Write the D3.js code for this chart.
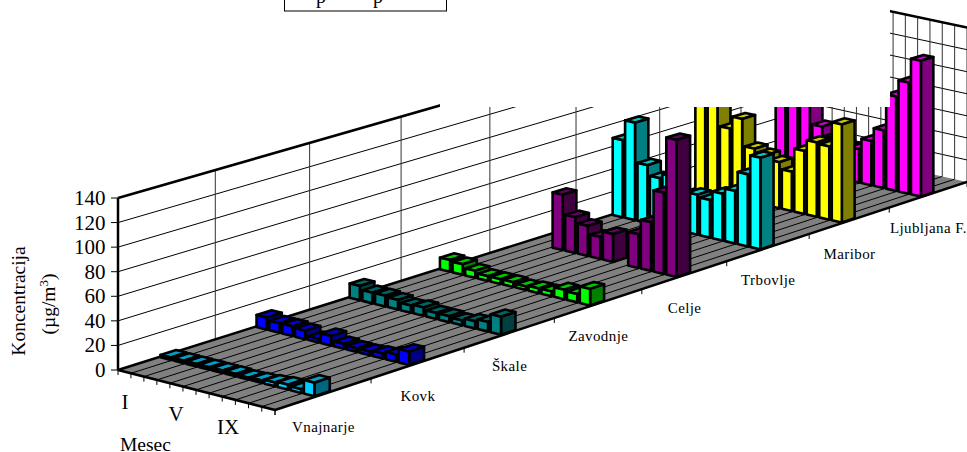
<!DOCTYPE html>
<html><head><meta charset="utf-8">
<style>html,body{margin:0;padding:0;background:#fff}svg{display:block;font-family:"Liberation Serif",serif}</style>
<script src="https://cdn.jsdelivr.net/npm/d3@7"></script>
</head><body><svg id="c" width="967" height="452"></svg>
<script>
const stations = ["Vnajnarje","Kovk","Škale","Zavodnje","Celje","Trbovlje","Maribor","Ljubljana F."];
const months = ["I","II","III","IV","V","VI","VII","VIII","IX","X","XI","XII"];
const monthLabels = ["I","V","IX"];
const yTicks = [0,20,40,60,80,100,120,140];
const vnajnarje = [2,2,2,2,2,2,1.5,2,3,4,3,11];
const kovk = [10,8,8,7,3,8,4,3,3,4,6,11];
const skale = [12,9,9,8,6,7,5,5,4,6,8,15];
const zavodnje = [10,9,6,4,4,4,3,4,4,8,7,14];
const celje = [null,null,48,31,26,19,24,null,29,42,70,118];
const trbovlje = [68,86,51,42,46,30,35,33,41,46,63,80];
const maribor = [100,95,61,72,48,45,41,35,56,66,65,87];
const ljubljana = [100,95,85,43,35,30,30,40,52,85,100,122];
const seriesValues = [vnajnarje,kovk,skale,zavodnje,celje,trbovlje,maribor,ljubljana];
const lightColors = ["#00ccff","#0000ff","#008080","#00ff00","#800080","#00ffff","#ffff00","#ff00ff"];

const svg = d3.select("#c");
const sPos = d3.scaleBand().domain(stations).range([0,1]).paddingInner(0.84).paddingOuter(0.42);
const sEdge = d3.scaleLinear().domain([0,stations.length]).range([0,1]);
const mPos = d3.scaleBand().domain(months).range([0,1]).paddingInner(0.2).paddingOuter(0.1);
const mEdge = d3.scaleLinear().domain([0,months.length]).range([0,1]);
const zS = d3.scaleLinear().domain([0,140]).range([0,172]);

// perspective fit of the floor quad
const A=[118,370],B=[275,410],C=[967,182],D=[820,149];
const dx1=D[0]-C[0],dx2=B[0]-C[0],sx=A[0]-D[0]+C[0]-B[0];
const dy1=D[1]-C[1],dy2=B[1]-C[1],sy=A[1]-D[1]+C[1]-B[1];
const det=dx1*dy2-dx2*dy1;
const g=(sx*dy2-dx2*sy)/det,h=(dx1*sy-sx*dy1)/det;
const a=D[0]-A[0]+g*D[0],b=B[0]-A[0]+h*B[0],c0=A[0];
const d=D[1]-A[1]+g*D[1],e=B[1]-A[1]+h*B[1],f=A[1];
function P(s,m,v){const w=g*s+h*m+1;return [(a*s+b*m+c0)/w,(d*s+e*m+f-zS(v||0))/w];}
const line=d3.line();
const seg=(p,q,sw,col)=>svg.append("path").attr("d",line([p,q])).attr("stroke",col||"#000").attr("stroke-width",sw).attr("fill","none");

svg.append("path").attr("d",line([P(0,0,0),P(1,0,0),P(1,0,140),P(0,0,140)])+"Z").attr("fill","#fff");
yTicks.forEach(t=>{ if(t>0){
  seg(P(0,0,t),P(1,0,t),1);seg(P(1,0,t),P(1,1,t),1);
}});
d3.range(1,stations.length+1).forEach(i=>seg(P(sEdge(i),0,0),P(sEdge(i),0,140),1,"#333"));
d3.range(1,months.length+1).forEach(i=>seg(P(1,mEdge(i),0),P(1,mEdge(i),140),1,"#333"));
svg.append("path").attr("d",line([P(0,0,0),P(1,0,0),P(1,1,0),P(0,1,0)])+"Z").attr("fill","#808080");
d3.range(1,months.length).forEach(i=>seg(P(0,mEdge(i),0),P(1,mEdge(i),0),1));
seg(P(0,0,0),P(0,0,140),2.5);seg(P(0,0,140),P(1,0,140),2.5);seg(P(1,0,140),P(1,1,140),2.5);
seg(P(0,0,0),P(1,0,0),2.5);seg(P(0,0,0),P(0,1,0),2.5);seg(P(0,1,0),P(1,1,0),2.5);
d3.range(0,months.length+1).forEach(i=>{const p=P(0,mEdge(i),0);seg(p,[p[0],p[1]+5],1);});
d3.range(0,stations.length+1).forEach(i=>{const p=P(sEdge(i),1,0);seg(p,[p[0],p[1]+5],1);});
yTicks.forEach(t=>{const p=P(0,0,t);seg(p,[p[0]-7,p[1]],1);
  svg.append("text").attr("x",p[0]-12.5).attr("y",p[1]+7).attr("text-anchor","end").attr("font-size",21).text(t);});

const order=d3.range(stations.length).reverse();
order.forEach(si=>{
  const name=stations[si],col=d3.color(lightColors[si]);
  const darkC=d3.rgb(col.r*.5,col.g*.5,col.b*.5),topC=d3.rgb(col.r*.78,col.g*.78,col.b*.78);
  const s0=sPos(name),s1=s0+sPos.bandwidth();
  const gS=svg.append("g");
  const bars=months.map((mn,i)=>({mn,v:seriesValues[si][i]})).filter(o=>o.v!==null);
  const gb=gS.selectAll("g").data(bars).join("g").attr("stroke","#000").attr("stroke-width",2.6).attr("stroke-linejoin","round");
  gb.append("path").attr("fill",topC.formatHex()).attr("d",o=>{const m0=mPos(o.mn),m1=m0+mPos.bandwidth();return line([P(s0,m0,o.v),P(s1,m0,o.v),P(s1,m1,o.v),P(s0,m1,o.v)])+"Z";});
  gb.append("path").attr("fill",darkC.formatHex()).attr("d",o=>{const m1=mPos(o.mn)+mPos.bandwidth();return line([P(s0,m1,0),P(s1,m1,0),P(s1,m1,o.v),P(s0,m1,o.v)])+"Z";});
  gb.append("path").attr("fill",col.formatHex()).attr("d",o=>{const m0=mPos(o.mn),m1=m0+mPos.bandwidth();return line([P(s0,m0,0),P(s0,m1,0),P(s0,m1,o.v),P(s0,m0,o.v)])+"Z";});
});

stations.forEach((n,i)=>{const p=P(sEdge(i+.5),1,0);
  svg.append("text").attr("x",p[0]).attr("y",p[1]+38).attr("text-anchor","middle").attr("font-size",15).attr("letter-spacing",.4).text(n);});
const mlPos=[[125,409],[176,421],[228,434]];
monthLabels.forEach((t,i)=>svg.append("text").attr("x",mlPos[i][0]).attr("y",mlPos[i][1]).attr("text-anchor","middle").attr("font-size",21).text(t));
svg.append("text").attr("x",120).attr("y",451).attr("font-size",19.5).text("Mesec");
svg.append("text").attr("transform","translate(25,301) rotate(-90)").attr("text-anchor","middle").attr("font-size",19.5).text("Koncentracija");
const yt=svg.append("text").attr("transform","translate(55,304) rotate(-90)").attr("text-anchor","middle").attr("font-size",19.5);
yt.append("tspan").text("(µg/m");
yt.append("tspan").attr("dy",-7).attr("font-size",13).text("3");
yt.append("tspan").attr("dy",7).text(")");
svg.append("rect").attr("x",440).attr("y",0).attr("width",450).attr("height",107).attr("fill","#fff");
svg.append("rect").attr("x",284.5).attr("y",-3).attr("width",162).attr("height",14).attr("fill","#fff").attr("stroke","#000");
[321,378].forEach(x=>svg.append("text").attr("x",x).attr("y",3).attr("text-anchor","middle").attr("font-size",20).text("p"));
</script></body></html>
